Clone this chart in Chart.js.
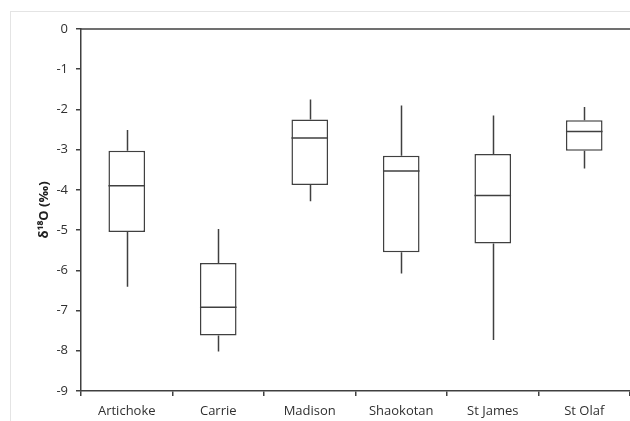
<!DOCTYPE html>
<html>
<head>
<meta charset="utf-8">
<script src="https://cdn.jsdelivr.net/npm/chart.js@4/dist/chart.umd.min.js"></script>
<style>
  html, body { margin: 0; padding: 0; background: #fff; }
  #wrap { width: 630px; height: 421px; }
</style>
</head>
<body>
<div id="wrap"><canvas id="chart" width="630" height="421"></canvas></div>
<script>
const sites = ['Artichoke', 'Carrie', 'Madison', 'Shaokotan', 'St James', 'St Olaf'];
const whiskerMax = [-2.51, -4.97, -1.75, -1.90, -2.15, -1.94];
const quartile3 = [-3.03, -5.82, -2.25, -3.15, -3.11, -2.27];
const medians = [-3.90, -6.92, -2.71, -3.53, -4.14, -2.55];
const quartile1 = [-5.05, -7.62, -3.88, -5.55, -5.33, -3.03];
const whiskerMin = [-6.41, -8.02, -4.28, -6.08, -7.73, -3.47];
const yTicks = [0, -1, -2, -3, -4, -5, -6, -7, -8, -9];

const lineColor = '#404040';
const textColor = '#303030';

// whiskers, medians, top line and outer frame
const boxExtras = {
  id: 'boxExtras',
  beforeDraw(chart) {
    const ctx = chart.ctx;
    ctx.save();
    ctx.strokeStyle = '#e4e4e4';
    ctx.lineWidth = 1;
    ctx.strokeRect(10.5, 11.5, 700, 500);
    ctx.restore();
  },
  afterDatasetsDraw(chart) {
    const ctx = chart.ctx;
    const y = chart.scales.y;
    const meta = chart.getDatasetMeta(0);
    ctx.save();
    ctx.strokeStyle = lineColor;
    ctx.lineWidth = 1.5;
    meta.data.forEach((bar, i) => {
      const cx = Math.round(bar.x) + 0.5;
      const half = bar.width / 2;
      ctx.beginPath();
      ctx.moveTo(cx, y.getPixelForValue(whiskerMax[i]));
      ctx.lineTo(cx, y.getPixelForValue(quartile3[i]));
      ctx.moveTo(cx, y.getPixelForValue(quartile1[i]));
      ctx.lineTo(cx, y.getPixelForValue(whiskerMin[i]));
      const my = y.getPixelForValue(medians[i]);
      ctx.moveTo(bar.x - half, my);
      ctx.lineTo(bar.x + half, my);
      ctx.stroke();
    });
    const top = y.getPixelForValue(0);
    ctx.beginPath();
    ctx.moveTo(chart.chartArea.left, top);
    ctx.lineTo(chart.chartArea.right, top);
    ctx.stroke();
    ctx.restore();
  }
};

new Chart(document.getElementById('chart'), {
  type: 'bar',
  data: {
    labels: sites,
    datasets: [{
      data: sites.map((_, i) => [quartile1[i], quartile3[i]]),
      backgroundColor: '#ffffff',
      borderColor: lineColor,
      borderWidth: 1.5,
      borderSkipped: false,
      barPercentage: 0.4,
      categoryPercentage: 1
    }]
  },
  options: {
    responsive: false,
    animation: false,
    layout: { padding: { top: 29, right: 0, left: 0, bottom: 0 } },
    plugins: { legend: { display: false }, tooltip: { enabled: false } },
    scales: {
      x: {
        offset: true,
        grid: { offset: true, drawOnChartArea: false, drawTicks: true, tickLength: 5, color: lineColor, lineWidth: 1.5 },
        border: { display: true, color: lineColor, width: 1.5 },
        ticks: { color: textColor, font: { family: 'Open Sans', size: 13 }, padding: 7, maxRotation: 0 },
        afterFit(scale) { scale.height = 30; }
      },
      y: {
        min: -9,
        max: 0,
        afterBuildTicks(scale) { scale.ticks = yTicks.map(v => ({ value: v })); },
        grid: { drawOnChartArea: false, drawTicks: true, tickLength: 5, color: lineColor, lineWidth: 1.5 },
        border: { display: true, color: lineColor, width: 1.5 },
        ticks: { color: textColor, font: { family: 'Open Sans', size: 13 }, padding: 8 },
        title: {
          display: true,
          text: 'δ¹⁸O (‰)',
          color: '#202020',
          font: { family: 'Open Sans', size: 13, weight: 'bold' },
          padding: { top: 36, bottom: 0 }
        },
        afterFit(scale) { scale.width = 81; }
      }
    }
  },
  plugins: [boxExtras]
});
</script>
</body>
</html>
